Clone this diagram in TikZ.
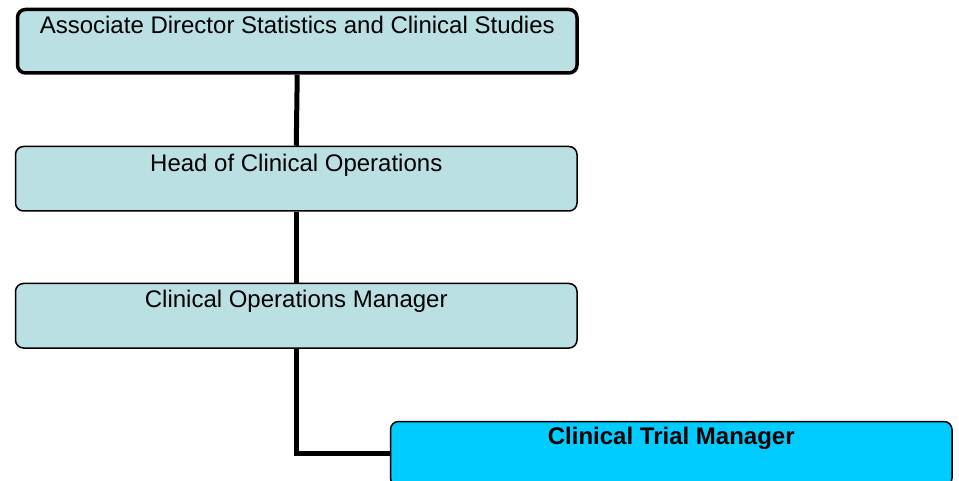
\documentclass[tikz,border=0pt]{standalone}
\usepackage{fontspec}
\setmainfont{Liberation Sans}
\definecolor{boxpale}{HTML}{BBE0E3}
\definecolor{boxcyan}{HTML}{00CCFF}
\begin{document}
\begin{tikzpicture}[x=1pt,y=-1pt,
  orgbox/.style={draw=black, rounded corners=8pt, fill=boxpale, anchor=north west,
    inner sep=0pt, line width=1.5pt, minimum width=561.5pt, minimum height=64.5pt},
  topbox/.style={orgbox, line width=3.5pt, minimum width=559.5pt, minimum height=63.5pt},
  ctmbox/.style={orgbox, fill=boxcyan},
  lbl/.style={anchor=base, inner sep=0pt, font=\fontsize{24}{28}\selectfont},
  link/.style={draw=black, line width=5pt}]
\useasboundingbox (0,0) rectangle (959,481);
\clip (0,0) rectangle (959,481);
\fill[white] (0,0) rectangle (959,481);
% boxes
\node[topbox] (a) at (15.75,7.75) {};
\node[orgbox] (b) at (14.75,145.75) {};
\node[orgbox] (c) at (14.75,282.75) {};
\node[ctmbox] (d) at (389.75,420.75) {};
% connectors
\draw[link] (a.south) -- (b.north);
\draw[link] (b.south) -- (c.north);
\draw[link] (c.south) |- (d.west);
% labels
\node[lbl] (ta) at ([yshift=-25.5pt]a.north) {Associate Director Statistics and Clinical Studies};
\node[lbl] (tb) at ([yshift=-26pt]b.north) {Head of Clinical Operations};
\node[lbl] (tc) at ([yshift=-24.5pt]c.north) {Clinical Operations Manager};
\node[lbl, font=\fontsize{24}{28}\selectfont\bfseries] (td) at ([yshift=-24pt]d.north) {Clinical Trial Manager};
\end{tikzpicture}
\end{document}
